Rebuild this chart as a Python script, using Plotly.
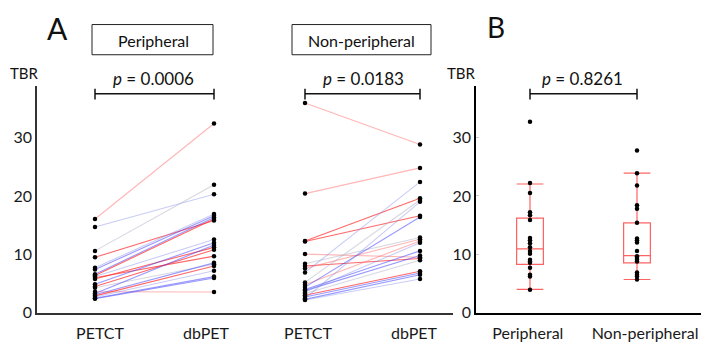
import plotly.graph_objects as go

W, H = 709, 344

# ---------------- data ----------------
cats_pair = ["PETCT", "dbPET"]
cats_box = ["Peripheral", "Non-peripheral"]

# Panel A, peripheral: PETCT -> dbPET pairs
per_petct = [16.05, 14.7, 10.6, 9.5, 7.7, 7.4, 6.6, 6.4, 6.2, 6.0, 5.8,
             4.9, 4.5, 4.3, 3.6, 3.3, 3.1, 2.9, 2.7, 2.5, 2.4]
per_dbpet = [32.4, 20.3, 21.9, 15.8, 16.9, 16.6, 16.3, 16.05, 12.55, 9.7, 11.2,
             12.0, 10.8, 8.3, 3.55, 11.6, 8.55, 8.0, 7.2, 6.2, 5.95]
per_color = ["lr", "lb", "g", "r", "lb", "b", "b", "r", "lb", "r", "r",
             "b", "r", "g", "lr", "b", "b", "r", "lb", "b", "b"]

# Panel A, non-peripheral
non_petct = [35.9, 20.4, 12.3, 12.2, 10.05, 8.4, 8.0, 7.6, 6.9, 5.2, 4.8,
             4.4, 4.0, 3.8, 3.55, 3.3, 3.0, 2.7, 2.45, 2.3, 2.2]
non_dbpet = [28.8, 24.8, 19.6, 16.6, 9.5, 12.9, 9.3, 12.6, 22.4, 19.3, 12.3,
             16.4, 10.6, 9.8, 12.0, 9.0, 7.1, 6.8, 19.0, 6.5, 5.8]
non_color = ["lr", "lr", "r", "r", "lr", "g", "r", "lr", "lb", "g", "lr",
             "b", "b", "b", "lb", "g", "r", "b", "lb", "b", "lb"]

# Panel B points and box statistics
b_per = [32.7, 22.2, 20.5, 17.2, 16.7, 15.9, 12.8, 12.4, 11.9, 11.2, 10.6,
         10.1, 9.1, 8.8, 8.55, 7.7, 6.5, 6.2, 3.95]
b_non = [27.8, 23.9, 21.8, 18.4, 17.8, 15.4, 12.7, 12.4, 12.05, 10.6, 9.7,
         9.4, 9.1, 8.8, 6.9, 6.5, 6.2, 5.7]
box_lower = [4.0, 5.7]
box_q1 = [8.3, 8.55]
box_median = [10.95, 9.8]
box_q3 = [16.2, 15.4]
box_upper = [22.05, 23.9]

p_values = ["0.0006", "0.0183", "0.8261"]
y_ticks = [0, 10, 20, 30]

# ---------------- styling ----------------
COL = {
    "r": "rgba(255,40,40,0.7)",
    "lr": "rgba(255,110,110,0.5)",
    "b": "rgba(70,70,255,0.55)",
    "lb": "rgba(120,130,230,0.4)",
    "g": "rgba(175,175,195,0.5)",
}
FONT = "Lato, 'Open Sans', sans-serif"


def px(x):
    return x / W


def py(y):
    return 1 - y / H


Y_TOP = (313 - 80) / 6.0
ydom = [py(313), py(80)]

fig = go.Figure()

# paired lines
for petct, dbpet, col, xa in [(per_petct, per_dbpet, per_color, "x"),
                              (non_petct, non_dbpet, non_color, "x2")]:
    for a, b, c in zip(petct, dbpet, col):
        fig.add_trace(go.Scatter(x=[0, 1], y=[a, b], mode="lines",
                                 line=dict(color=COL[c], width=1.1),
                                 xaxis=xa, yaxis="y", hoverinfo="skip",
                                 showlegend=False))
    fig.add_trace(go.Scatter(x=[0] * len(petct) + [1] * len(dbpet),
                             y=list(petct) + list(dbpet), mode="markers",
                             marker=dict(color="black", size=4.5),
                             xaxis=xa, yaxis="y", showlegend=False))

# boxes
for i in range(2):
    fig.add_trace(go.Box(x=[i], q1=[box_q1[i]], median=[box_median[i]],
                         q3=[box_q3[i]], lowerfence=[box_lower[i]],
                         upperfence=[box_upper[i]], width=0.25,
                         whiskerwidth=1, boxpoints=False,
                         fillcolor="rgba(0,0,0,0)",
                         line=dict(color="rgba(255,60,60,0.8)", width=1.2),
                         xaxis="x3", yaxis="y3", showlegend=False))
for i, pts in enumerate([b_per, b_non]):
    fig.add_trace(go.Scatter(x=[i] * len(pts), y=pts, mode="markers",
                             marker=dict(color="black", size=4.5),
                             xaxis="x3", yaxis="y3", showlegend=False))

axis_common = dict(showgrid=False, zeroline=False, showline=True,
                   linewidth=1.6, fixedrange=True)
tickfont = dict(family=FONT, size=16, color="#1a1a1a")

fig.update_layout(
    width=W, height=H, margin=dict(l=0, r=0, t=0, b=0),
    paper_bgcolor="white", plot_bgcolor="white",
    xaxis=dict(domain=[px(29), px(250)], range=[-58 / 119, 1 + 44 / 119],
               tickvals=[0.042, 0.933], ticktext=cats_pair,
               ticks="outside", ticklen=5, tickcolor="rgba(0,0,0,0)",
               linecolor="#333", tickfont=tickfont, anchor="y", **axis_common),
    xaxis2=dict(domain=[px(250), px(445)], range=[-47 / 115, 1 + 33 / 115],
                tickvals=[0.026, 0.948], ticktext=cats_pair,
                ticks="outside", ticklen=5, tickcolor="rgba(0,0,0,0)",
                linecolor="#333", tickfont=tickfont, anchor="y", **axis_common),
    yaxis=dict(domain=ydom, range=[0, Y_TOP], tickvals=y_ticks,
               ticks="", linecolor="#333", tickfont=tickfont,
               anchor="x", **axis_common),
    xaxis3=dict(domain=[px(468), 1], range=[-54 / 107, 1 + 80 / 107],
                tickvals=[-0.02, 1.075], ticktext=cats_box,
                ticks="outside", ticklen=5, tickcolor="rgba(0,0,0,0)",
                linecolor="black", tickfont=tickfont, anchor="y3", **axis_common),
    yaxis3=dict(domain=ydom, range=[0, Y_TOP], tickvals=y_ticks,
                ticks="inside", ticklen=3, tickcolor="#ccc",
                linecolor="black", tickfont=tickfont,
                anchor="x3", **axis_common),
)

ann = []


def text(x, y, s, size, yanchor="middle"):
    ann.append(dict(x=px(x), y=py(y), xref="paper", yref="paper", text=s,
                    xanchor="center", yanchor=yanchor, showarrow=False,
                    font=dict(family=FONT, size=size, color="#111")))


text(49, 0, "A", 30, yanchor="top")
text(488, 0, "B", 28, yanchor="top")
text(16, 67, "TBR", 15)
text(453, 67, "TBR", 15)
text(145, 33, "Peripheral", 16)
text(353, 33, "Non-peripheral", 16)
for xc, p in zip([145, 355, 574], p_values):
    text(xc, 72, "<i>p</i> = " + p, 17)
fig.update_layout(annotations=ann)

shapes = []
# title boxes
for x0, x1 in [(84, 205), (284, 423)]:
    shapes.append(dict(type="rect", xref="paper", yref="paper",
                       x0=px(x0), x1=px(x1), y0=py(48), y1=py(17),
                       line=dict(color="#222", width=1)))
# significance brackets (x in data coords)
for xr in ["x", "x2", "x3"]:
    shapes.append(dict(type="line", xref=xr, yref="paper", x0=0, x1=1,
                       y0=py(88), y1=py(88), line=dict(color="#111", width=1.5)))
    for xv in [0, 1]:
        shapes.append(dict(type="line", xref=xr, yref="paper", x0=xv, x1=xv,
                           y0=py(83), y1=py(94),
                           line=dict(color="#111", width=1.5)))
fig.update_layout(shapes=shapes)

fig.write_html("out.html")
